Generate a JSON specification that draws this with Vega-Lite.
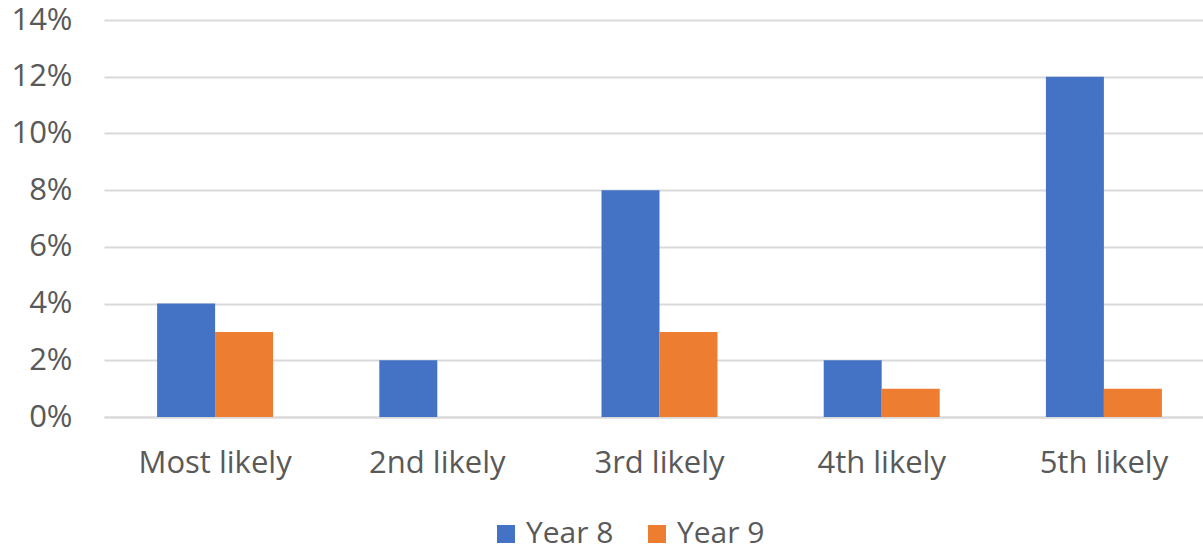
{
  "$schema": "https://vega.github.io/schema/vega-lite/v6.json",
  "width": 1111,
  "height": 397,
  "autosize": "none",
  "padding": {"left": 104, "top": 20, "right": -12, "bottom": 132},
  "background": "white",
  "config": {
    "view": {"stroke": null},
    "font": "Open Sans"
  },
  "data": {
    "values": [
      {"rank": "Most likely", "year": "Year 8", "value": 0.04},
      {"rank": "Most likely", "year": "Year 9", "value": 0.03},
      {"rank": "2nd likely", "year": "Year 8", "value": 0.02},
      {"rank": "2nd likely", "year": "Year 9", "value": 0.0},
      {"rank": "3rd likely", "year": "Year 8", "value": 0.08},
      {"rank": "3rd likely", "year": "Year 9", "value": 0.03},
      {"rank": "4th likely", "year": "Year 8", "value": 0.02},
      {"rank": "4th likely", "year": "Year 9", "value": 0.01},
      {"rank": "5th likely", "year": "Year 8", "value": 0.12},
      {"rank": "5th likely", "year": "Year 9", "value": 0.01}
    ]
  },
  "mark": {"type": "bar"},
  "encoding": {
    "x": {
      "field": "rank",
      "type": "nominal",
      "sort": null,
      "scale": {"paddingInner": 0.478, "paddingOuter": 0.239},
      "axis": {
        "title": null,
        "labelAngle": 0,
        "labelFontSize": 31,
        "labelColor": "#595959",
        "labelPadding": 31,
        "ticks": false,
        "domain": true,
        "domainColor": "#d9d9d9",
        "domainWidth": 2
      }
    },
    "xOffset": {"field": "year", "type": "nominal", "scale": {"paddingInner": 0, "paddingOuter": 0}},
    "y": {
      "field": "value",
      "type": "quantitative",
      "scale": {"domain": [0, 0.14], "nice": false},
      "axis": {
        "title": null,
        "format": ".0%",
        "values": [0, 0.02, 0.04, 0.06, 0.08, 0.1, 0.12, 0.14],
        "labelFontSize": 31,
        "labelColor": "#595959",
        "labelPadding": 32,
        "ticks": false,
        "domain": false,
        "grid": true,
        "gridColor": "#d9d9d9",
        "gridWidth": 2
      }
    },
    "color": {
      "field": "year",
      "type": "nominal",
      "scale": {"domain": ["Year 8", "Year 9"], "range": ["#4472C4", "#ED7D31"]},
      "legend": {
        "title": null,
        "orient": "none",
        "legendX": 387,
        "legendY": 499,
        "direction": "horizontal",
        "symbolType": "square",
        "symbolSize": 324,
        "symbolStrokeWidth": 0,
        "labelFontSize": 30,
        "labelColor": "#595959",
        "columnPadding": 28,
        "labelOffset": 5
      }
    }
  }
}
